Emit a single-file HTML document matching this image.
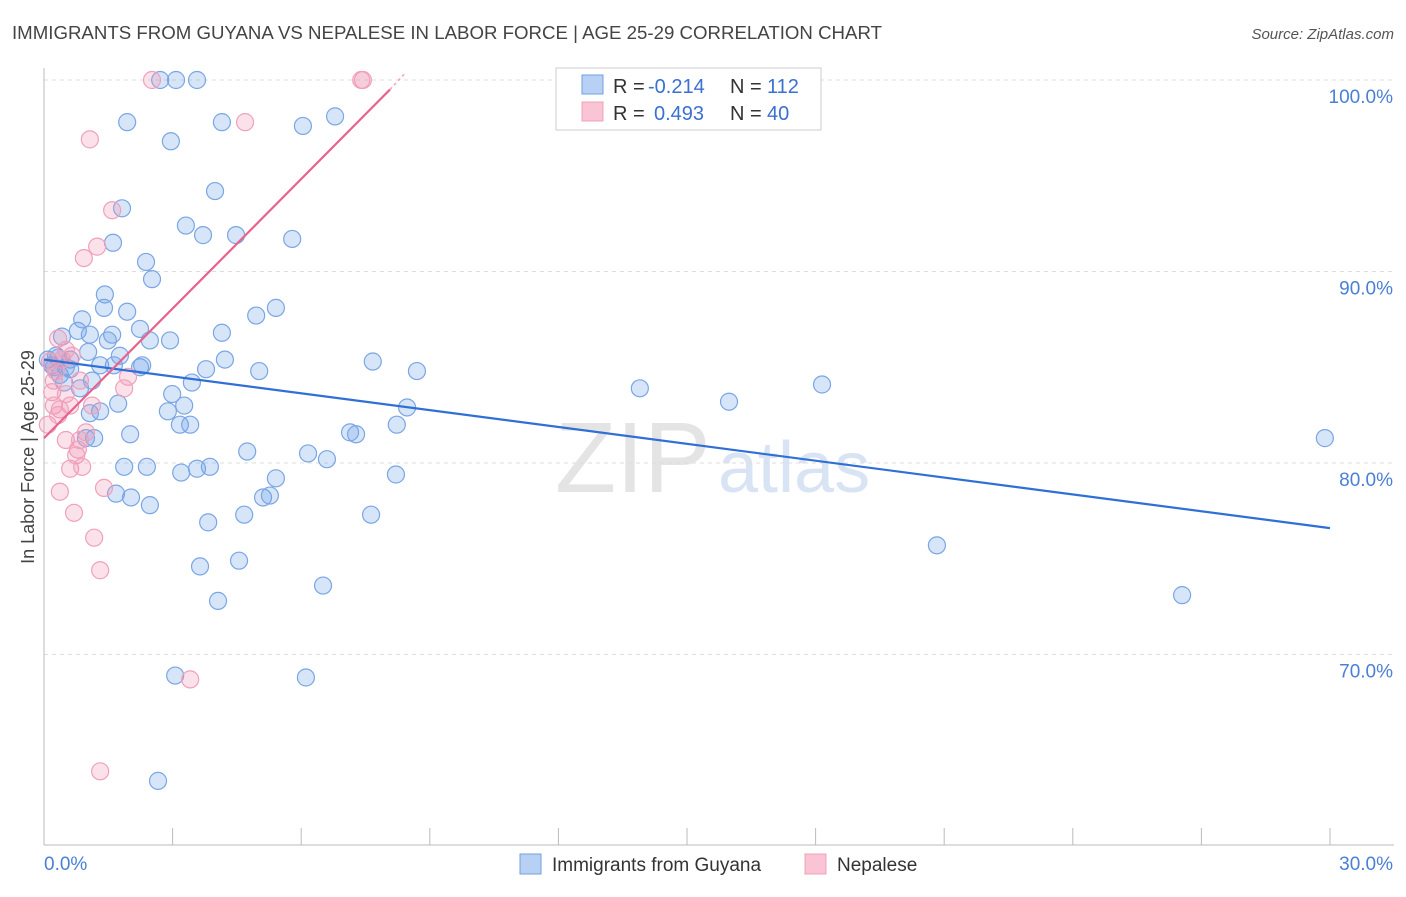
<!DOCTYPE html>
<html><head><meta charset="utf-8"><style>
body{margin:0;background:#fff;font-family:"Liberation Sans",sans-serif;}
svg text{font-family:"Liberation Sans",sans-serif;}
</style></head><body>
<svg id="chart" width="1406" height="892" xmlns="http://www.w3.org/2000/svg">
<text x="12" y="39" font-size="18.5" fill="#444" textLength="870" lengthAdjust="spacingAndGlyphs">IMMIGRANTS FROM GUYANA VS NEPALESE IN LABOR FORCE | AGE 25-29 CORRELATION CHART</text>
<text x="1394" y="39" font-size="15" fill="#555" text-anchor="end" font-style="italic">Source: ZipAtlas.com</text>
<text x="555" y="492" font-size="100" fill="#e4e4e4" font-family="Liberation Serif">ZIP</text>
<text x="718" y="492" font-size="72" fill="#d8e4f4">atlas</text>
<text transform="translate(34,457) rotate(-90)" font-size="18" fill="#444" text-anchor="middle">In Labor Force | Age 25-29</text>
<g id="grid"></g><g id="marks"></g>
<g>
<rect x="556" y="68" width="265" height="62" fill="#fff" stroke="#ccc"/>
<rect x="582" y="75" width="21" height="19" fill="#b8d0f4" stroke="#6fa0e0"/>
<rect x="582" y="102" width="21" height="19" fill="#f9c4d4" stroke="#f0a0bc"/>
<text x="613" y="93" font-size="20" fill="#333">R =</text>
<text x="648" y="93" font-size="20" fill="#3a70d0">-0.214</text>
<text x="730" y="93" font-size="20" fill="#333">N =</text>
<text x="767" y="93" font-size="20" fill="#3a70d0">112</text>
<text x="613" y="120" font-size="20" fill="#333">R =</text>
<text x="654" y="120" font-size="20" fill="#3a70d0">0.493</text>
<text x="730" y="120" font-size="20" fill="#333">N =</text>
<text x="767" y="120" font-size="20" fill="#3a70d0">40</text>
</g>
<g>
<rect x="520" y="854" width="21" height="20" fill="#b8d0f4" stroke="#6fa0e0"/>
<text x="552" y="871" font-size="19" fill="#333">Immigrants from Guyana</text>
<rect x="805" y="854" width="21" height="20" fill="#f9c4d4" stroke="#f0a0bc"/>
<text x="837" y="871" font-size="19" fill="#333">Nepalese</text>
</g>
</svg>
<script>
const xTicks=[0,30];
const yTicks=[70,80,90,100];
const guyanaX=[2.71,3.08,3.57,1.94,4.15,6.04,6.79,2.96,3.99,1.82,3.31,1.61,3.71,4.48,5.79,2.38,2.52,1.42,1.40,1.94,4.95,5.41,0.89,0.79,1.07,1.59,2.24,2.94,4.15,2.47,1.49,0.42,0.28,0.61,1.03,1.77,1.31,1.63,2.24,2.29,3.78,4.22,5.02,7.67,8.70,0.23,0.37,0.09,0.47,0.84,1.12,3.45,2.99,3.27,1.73,1.31,1.07,2.89,3.17,3.41,2.01,1.17,0.98,4.74,6.16,6.60,7.14,7.28,8.23,8.47,13.90,15.98,18.15,29.88,1.87,2.40,3.20,3.57,3.87,5.41,8.21,1.68,2.03,2.47,5.11,5.27,4.67,7.63,3.83,4.55,3.64,6.51,4.06,20.83,26.55,3.06,6.11,2.66,0.61,0.19,0.33,0.51];
const guyanaY=[100,100,100,97.8,97.8,97.6,98.1,96.8,94.2,93.3,92.4,91.5,91.9,91.9,91.7,90.5,89.6,88.8,88.1,87.9,87.7,88.1,87.5,86.9,86.7,86.7,87.0,86.4,86.8,86.4,86.4,86.6,85.6,85.4,85.8,85.6,85.1,85.1,85.0,85.1,84.9,85.4,84.8,85.3,84.8,85.0,84.6,85.4,84.2,83.9,84.3,84.2,83.6,83.0,83.1,82.7,82.6,82.7,82.0,82.0,81.5,81.3,81.3,80.6,80.5,80.2,81.6,81.5,82.0,82.9,83.9,83.2,84.1,81.3,79.8,79.8,79.5,79.7,79.8,79.2,79.4,78.4,78.2,77.8,78.2,78.3,77.3,77.3,76.9,74.9,74.6,73.6,72.8,75.7,73.1,68.9,68.8,63.4,84.9,85.1,85.5,85.0];
const nepalX=[2.52,7.44,1.07,4.69,1.59,1.24,0.93,0.33,0.51,0.42,0.65,0.14,0.28,0.84,1.96,1.87,0.19,0.23,0.61,0.37,1.12,0.98,0.51,0.84,0.09,0.79,0.75,0.61,0.89,1.40,0.37,0.70,1.17,1.31,3.41,1.31,0.23,0.51,0.33,7.40];
const nepalY=[100,100,96.9,97.8,93.2,91.3,90.7,86.5,85.9,85.4,85.6,85.3,84.8,84.3,84.5,83.9,83.7,83.0,83.0,82.8,83.0,81.6,81.2,81.2,82.0,80.7,80.4,79.7,79.8,78.7,78.5,77.4,76.1,74.4,68.7,63.9,84.3,83.6,82.5,100];
const guyanaTrendX=[0,30], guyanaTrendY=[85.4,76.6];
const nepalTrendX=[0,8.07], nepalTrendY=[81.3,99.5];
const nepalDashX=[8.07,8.4], nepalDashY=[99.5,100.3];

const X0=44,X1=1330,YTOP=80,YPX=19.15;
const sx=v=>X0+(v-0)/30*(X1-X0);
const sy=v=>YTOP+(100-v)*YPX;
const NS="http://www.w3.org/2000/svg";
const grid=document.getElementById('grid'),marks=document.getElementById('marks');
function mk(tag,attrs,parent){const e=document.createElementNS(NS,tag);for(const k in attrs)e.setAttribute(k,attrs[k]);parent.appendChild(e);return e;}
yTicks.forEach(t=>{
  const l=mk('line',{x1:X0,x2:1394,y1:sy(t),y2:sy(t),stroke:'#ddd','stroke-dasharray':'4,4'},grid);
  
  
  const tx=mk('text',{x:1393,y:sy(t)+23,'font-size':19,fill:'#4a7fd4','text-anchor':'end'},grid);
  tx.textContent=t.toFixed(1)+'%';
  
  
});
const ax=mk('line',{x1:X0,x2:X0,y1:68,y2:845,stroke:'#bbb'},grid);


const bx=mk('line',{x1:X0,x2:1394,y1:845,y2:845,stroke:'#bbb'},grid);


for(let i=0;i<=10;i++){
  const t=mk('line',{x1:sx(i*3),x2:sx(i*3),y1:828,y2:845,stroke:'#bbb'},grid);
  
  
}
xTicks.forEach(t=>{
  const tx=mk('text',{x:sx(t)+(t===0?0:63),y:870,'font-size':19,fill:'#4a7fd4','text-anchor':t===0?'start':'end'},grid);
  tx.textContent=t.toFixed(1)+'%';
  
  
});
guyanaX.forEach((v,i)=>{
  const c=mk('circle',{cx:sx(v),cy:sy(guyanaY[i]),r:8.5,fill:'rgba(110,160,230,0.28)',stroke:'#7aa6e4','stroke-width':1.2},marks);
  
  
});
nepalX.forEach((v,i)=>{
  const c=mk('circle',{cx:sx(v),cy:sy(nepalY[i]),r:8.5,fill:'rgba(240,150,180,0.28)',stroke:'#f0a0bc','stroke-width':1.2},marks);
  
  
});
const bt=mk('line',{x1:sx(guyanaTrendX[0]),y1:sy(guyanaTrendY[0]),x2:sx(guyanaTrendX[1]),y2:sy(guyanaTrendY[1]),stroke:'#2f6fd6','stroke-width':2.2},marks);


const pt=mk('line',{x1:sx(nepalTrendX[0]),y1:sy(nepalTrendY[0]),x2:sx(nepalTrendX[1]),y2:sy(nepalTrendY[1]),stroke:'#e8628e','stroke-width':2.2},marks);


const pd=mk('line',{x1:sx(nepalDashX[0]),y1:sy(nepalDashY[0]),x2:sx(nepalDashX[1]),y2:sy(nepalDashY[1]),stroke:'#f0a0bc','stroke-width':1.5,'stroke-dasharray':'3,3'},marks);


</script>
</body></html>
